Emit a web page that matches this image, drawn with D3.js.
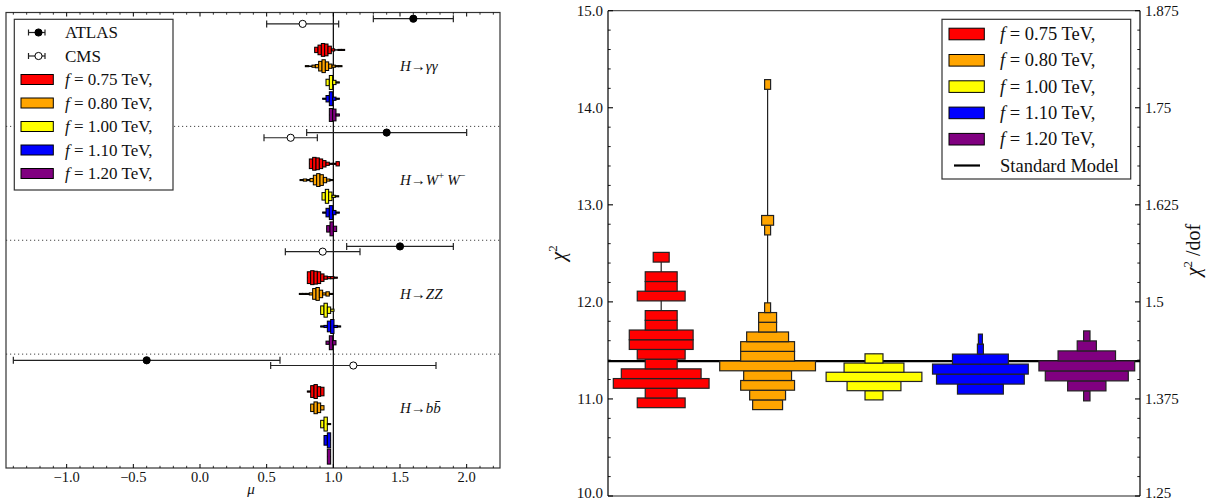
<!DOCTYPE html>
<html><head><meta charset="utf-8">
<script src="https://cdn.jsdelivr.net/npm/d3@7"></script>
<style>
body{margin:0;background:#fff}
svg{display:block}
text{font-family:"Liberation Serif","DejaVu Serif",serif;fill:#111}
</style>
</head><body><svg id="c" width="1212" height="501"></svg>
<script>
// ---------------- DATA ----------------
const fLabels = ["0.75", "0.80", "1.00", "1.10", "1.20"];
const fColors = ["#ff0000", "#ffa500", "#ffff00", "#0000ff", "#800080"];

// Left panel: signal strengths
const channels = ["gg", "WW", "ZZ", "bb"];
const atlasMu = [1.60, 1.40, 1.50, -0.40];
const atlasLo = [1.30, 0.80, 1.10, -1.40];
const atlasHi = [1.90, 2.00, 1.90, 0.60];
const cmsMu = [0.77, 0.68, 0.92, 1.15];
const cmsLo = [0.50, 0.48, 0.64, 0.53];
const cmsHi = [1.04, 0.88, 1.20, 1.77];
const muTicks = [-1.0, -0.5, 0.0, 0.5, 1.0, 1.5, 2.0];

// mu histograms per channel (rows) and f value (columns), bin width muBin
const muBin = 0.025;
const muHistStart = [
  [0.860, 0.790, 0.945, 0.920, 0.970],
  [0.820, 0.750, 0.915, 0.920, 0.950],
  [0.805, 0.745, 0.905, 0.905, 0.945],
  [0.805, 0.830, 0.905, 0.930, 0.955]
];
const muHistCounts = [
  [[5,9,12,11,7,2,0,1,1], [1,0,2,3,9,12,8,4,2,1,1], [6,13,4,1], [1,6,13,3,1], [12,11,2]],
  [[9,12,11,9,6,3,1,1,4], [1,2,1,3,9,12,10,5,2,1], [7,13,8,2,1], [1,8,13,4,1], [6,13,5]],
  [[11,13,12,11,7,3,2,2,1], [1,1,1,2,10,12,7,2,4,1], [8,13,6,2], [1,2,10,13,2,1], [3,13,4]],
  [[1,11,13,9,8], [7,11,9,4], [7,13,1], [9,14], [14]]
];

// Right panel: chi^2 histograms (bins from start, upward)
const chiStart = [10.91, 10.89, 10.99, 11.05, 10.98];
const chiBin = [0.100, 0.100, 0.095, 0.103, 0.103];
const chiCounts = [
  [3,2,6,5,2,3,4,4,2,2,0,3,2,2,0,1],
  [5,6,9,8,16,9,9,7,3,3,1,0,0,0,0,0,0,0,1,2,0,0,0,0,0,0,0,0,0,0,0,0,0,1],
  [3,9,16,10,3],
  [23,44,48,28,3,2],
  [1,6,13,15,9,3,1]
];
const chiSM = 11.39;
const dof = 8;
const chiTicks = [10, 11, 12, 13, 14, 15];
const dofTicks = [1.25, 1.375, 1.5, 1.625, 1.75, 1.875];
const dofTickLabels = ["1.25", "1.375", "1.5", "1.625", "1.75", "1.875"];

// ---------------- DRAW ----------------
const svg = d3.select("#c");
svg.append("rect").attr("width", 1212).attr("height", 501).attr("fill", "#fff");

// ===== LEFT PANEL =====
const L = {x0: 6, x1: 500, y0: 12.5, y1: 468};
const xMu = d3.scaleLinear().domain([-1.455, 2.25]).range([L.x0, L.x1]);
const rowsPer = 7;
const yRow = d3.scaleLinear().domain([0, rowsPer * channels.length]).range([L.y0, L.y1]);
const atlasRow = 0.38, cmsRow = 0.70, histRow0 = 2.3, labelRow = 3.3;
const hMu = d3.scaleLinear().domain([0, 14]).range([0, 15]);

const lp = svg.append("g");
for (let c = 1; c < channels.length; c++) {
  lp.append("line").attr("x1", L.x0).attr("x2", L.x1)
    .attr("y1", yRow(c * rowsPer)).attr("y2", yRow(c * rowsPer))
    .attr("stroke", "#444").attr("stroke-width", 1).attr("stroke-dasharray", "1.2,2.8");
}
lp.append("line").attr("x1", xMu(1)).attr("x2", xMu(1)).attr("y1", L.y0).attr("y2", L.y1)
  .attr("stroke", "#000").attr("stroke-width", 1.2);

channels.forEach((ch, c) => {
  fLabels.forEach((f, k) => {
    const yc = yRow(c * rowsPer + histRow0 + k);
    const st = muHistStart[c][k], cnt = muHistCounts[c][k];
    lp.append("line").attr("x1", xMu(st)).attr("x2", xMu(st + cnt.length * muBin))
      .attr("y1", yc).attr("y2", yc).attr("stroke", "#000").attr("stroke-width", 1.4);
    lp.selectAll(null).data(cnt.map((v, i) => ({v, i})).filter(d => d.v > 0)).enter().append("rect")
      .attr("x", d => xMu(st + d.i * muBin))
      .attr("width", d => xMu(st + (d.i + 1) * muBin) - xMu(st + d.i * muBin))
      .attr("y", d => yc - hMu(d.v) / 2).attr("height", d => hMu(d.v))
      .attr("fill", fColors[k]).attr("stroke", "#000").attr("stroke-width", 1);
  });
});

function errbar(g, x, lo, hi, y, filled) {
  g.append("line").attr("x1", xMu(lo)).attr("x2", xMu(hi)).attr("y1", y).attr("y2", y)
    .attr("stroke", "#222").attr("stroke-width", 1.2);
  [lo, hi].forEach(v => g.append("line").attr("x1", xMu(v)).attr("x2", xMu(v))
    .attr("y1", y - 3.5).attr("y2", y + 3.5).attr("stroke", "#222").attr("stroke-width", 1.2));
  g.append("circle").attr("cx", xMu(x)).attr("cy", y).attr("r", 3.6)
    .attr("fill", filled ? "#000" : "#fff").attr("stroke", "#000").attr("stroke-width", 1);
}
channels.forEach((ch, c) => {
  errbar(lp, atlasMu[c], atlasLo[c], atlasHi[c], yRow(c * rowsPer + atlasRow), true);
  errbar(lp, cmsMu[c], cmsLo[c], cmsHi[c], yRow(c * rowsPer + cmsRow), false);
});

const chanLabel = [
  [["H", "i"], ["\u2192", "n"], ["\u03B3\u03B3", "i"]],
  [["H", "i"], ["\u2192", "n"], ["W", "i"], ["+", "s"], ["\u2009W", "i"], ["\u2212", "s"]],
  [["H", "i"], ["\u2192", "n"], ["ZZ", "i"]],
  [["H", "i"], ["\u2192", "n"], ["b", "i"], ["b\u0304", "i"]]
];
chanLabel.forEach((segs, c) => {
  const t = lp.append("text").attr("x", xMu(1.5)).attr("y", yRow(c * rowsPer + labelRow) + 5)
    .attr("font-size", 15);
  let sup = false;
  segs.forEach(([s, m]) => {
    const ts = t.append("tspan").text(s);
    if (m === "i") ts.attr("font-style", "italic");
    if (m === "s") { ts.attr("font-size", 10.5).attr("dy", sup ? 0 : -6); sup = true; }
    else if (sup) { ts.attr("dy", 6); sup = false; }
  });
});

lp.append("rect").attr("x", L.x0).attr("y", L.y0).attr("width", L.x1 - L.x0).attr("height", L.y1 - L.y0)
  .attr("fill", "none").attr("stroke", "#333").attr("stroke-width", 1.2);
const minorMu = d3.range(-14, 23).map(v => v / 10).filter(v => muTicks.indexOf(v) < 0 && v >= -1.455 && v <= 2.25);
[[L.y1, -1], [L.y0, 1]].forEach(([yy, dir]) => {
  muTicks.forEach(v => lp.append("line").attr("x1", xMu(v)).attr("x2", xMu(v))
    .attr("y1", yy).attr("y2", yy + dir * 4).attr("stroke", "#000").attr("stroke-width", 1));
  minorMu.forEach(v => lp.append("line").attr("x1", xMu(v)).attr("x2", xMu(v))
    .attr("y1", yy).attr("y2", yy + dir * 2.2).attr("stroke", "#000").attr("stroke-width", 0.8));
});
muTicks.forEach(v => lp.append("text").attr("x", xMu(v)).attr("y", 481.5).attr("text-anchor", "middle")
  .attr("font-size", 14.5).text(d3.format(".1f")(v).replace("-", "\u2212")));
lp.append("text").attr("x", 251).attr("y", 494).attr("text-anchor", "middle").attr("font-size", 15)
  .attr("font-style", "italic").text("\u03BC");

// left legend
const lg = lp.append("g");
lg.append("rect").attr("x", 14.3).attr("y", 19.3).attr("width", 158.7).attr("height", 170.7)
  .attr("fill", "#fff").attr("stroke", "#333").attr("stroke-width", 1.2);
const lgY = d3.range(7).map(i => 32.5 + i * 23.5);
[["ATLAS", true], ["CMS", false]].forEach(([name, filled], i) => {
  const y = lgY[i];
  lg.append("line").attr("x1", 28.5).attr("x2", 45).attr("y1", y).attr("y2", y).attr("stroke", "#222").attr("stroke-width", 1.2);
  [28.5, 45].forEach(x => lg.append("line").attr("x1", x).attr("x2", x).attr("y1", y - 3).attr("y2", y + 3).attr("stroke", "#222").attr("stroke-width", 1.2));
  lg.append("circle").attr("cx", 38.5).attr("cy", y).attr("r", 3.6).attr("fill", filled ? "#000" : "#fff").attr("stroke", "#000");
  lg.append("text").attr("x", 65).attr("y", y + 5.5).attr("font-size", 17).text(name);
});
function fText(g, x, y, fs, f) {
  const t = g.append("text").attr("x", x).attr("y", y).attr("font-size", fs);
  t.append("tspan").attr("font-style", "italic").text("f");
  t.append("tspan").text("\u2005=\u2005" + f + " TeV,");
}
fLabels.forEach((f, k) => {
  const y = lgY[k + 2];
  lg.append("rect").attr("x", 21).attr("y", y - 5).attr("width", 32.3).attr("height", 10)
    .attr("fill", fColors[k]).attr("stroke", "#000").attr("stroke-width", 1);
  fText(lg, 65, y + 5.5, 17, f);
});

// ===== RIGHT PANEL =====
const R = {x0: 608, x1: 1140, y0: 10.7, y1: 496};
const yChi = d3.scaleLinear().domain([10, 15]).range([R.y1, R.y0]);
const yDof = d3.scaleLinear().domain([10 / dof, 15 / dof]).range([R.y1, R.y0]);
const xBand = d3.scaleBand().domain(fLabels).range([R.x0, R.x1]);
const rp = svg.append("g");

rp.append("line").attr("x1", R.x0).attr("x2", R.x1).attr("y1", yChi(chiSM)).attr("y2", yChi(chiSM))
  .attr("stroke", "#000").attr("stroke-width", 2.2);

fLabels.forEach((f, k) => {
  const cx = xBand(f) + xBand.bandwidth() / 2;
  const cnt = chiCounts[k], st = chiStart[k], bw = chiBin[k];
  const wS = d3.scaleLinear().domain([0, d3.max(cnt)]).range([0, xBand.bandwidth() * 0.9]);
  rp.append("line").attr("x1", cx).attr("x2", cx).attr("y1", yChi(st)).attr("y2", yChi(st + cnt.length * bw))
    .attr("stroke", "#222").attr("stroke-width", 1.2);
  rp.selectAll(null).data(cnt.map((v, i) => ({v, i})).filter(d => d.v > 0)).enter().append("rect")
    .attr("x", d => cx - wS(d.v) / 2).attr("width", d => wS(d.v))
    .attr("y", d => yChi(st + (d.i + 1) * bw)).attr("height", d => yChi(st + d.i * bw) - yChi(st + (d.i + 1) * bw))
    .attr("fill", fColors[k]).attr("stroke", "#222").attr("stroke-width", 1.2);
});

rp.append("line").attr("x1", R.x0).attr("x2", R.x1).attr("y1", R.y0).attr("y2", R.y0).attr("stroke", "#555").attr("stroke-width", 1.2);
rp.append("line").attr("x1", R.x0).attr("x2", R.x1).attr("y1", R.y1).attr("y2", R.y1).attr("stroke", "#222").attr("stroke-width", 1.2);
rp.append("line").attr("x1", R.x0).attr("x2", R.x0).attr("y1", R.y0).attr("y2", R.y1).attr("stroke", "#000").attr("stroke-width", 1.2);
rp.append("line").attr("x1", R.x1).attr("x2", R.x1).attr("y1", R.y0).attr("y2", R.y1).attr("stroke", "#000").attr("stroke-width", 1.2);
d3.range(10, 15.001, 0.2).forEach(v => {
  const major = Math.abs(v - Math.round(v)) < 1e-6;
  rp.append("line").attr("x1", R.x0).attr("x2", R.x0 + (major ? 5 : 2.7)).attr("y1", yChi(v)).attr("y2", yChi(v))
    .attr("stroke", "#000").attr("stroke-width", major ? 1.1 : 0.9);
});
const labY = y => Math.min(y + 5, 497.5);
chiTicks.forEach(v => rp.append("text").attr("x", 603).attr("y", labY(yChi(v))).attr("text-anchor", "end")
  .attr("font-size", 15).text(d3.format(".1f")(v)));
d3.range(0, 26).map(i => 1.25 + i * 0.025).forEach((v, i) => {
  const major = i % 5 === 0;
  rp.append("line").attr("x1", R.x1).attr("x2", R.x1 - (major ? 5 : 2.7)).attr("y1", yDof(v)).attr("y2", yDof(v))
    .attr("stroke", "#000").attr("stroke-width", major ? 1.1 : 0.9);
});
dofTicks.forEach((v, i) => rp.append("text").attr("x", 1145).attr("y", labY(yDof(v)))
  .attr("font-size", 15).text(dofTickLabels[i]));

const yl = rp.append("text").attr("transform", "translate(565,253) rotate(-90)").attr("text-anchor", "middle")
  .attr("font-size", 20);
yl.append("tspan").attr("font-style", "italic").text("\u03C7");
yl.append("tspan").attr("font-size", 13).attr("dy", -8).text("2");
const yr = rp.append("text").attr("transform", "translate(1200,250) rotate(-90)").attr("text-anchor", "middle")
  .attr("font-size", 20);
yr.append("tspan").attr("font-style", "italic").text("\u03C7");
yr.append("tspan").attr("font-size", 13).attr("dy", -8).text("2");
yr.append("tspan").attr("dy", 8).text("\u2005/dof");

// right legend
const rg = rp.append("g");
rg.append("rect").attr("x", 942).attr("y", 19.3).attr("width", 188.7).attr("height", 159.7)
  .attr("fill", "#fff").attr("stroke", "#333").attr("stroke-width", 1.2);
const rgY = d3.range(6).map(i => 34 + i * 26.3);
fLabels.forEach((f, k) => {
  const y = rgY[k];
  rg.append("rect").attr("x", 949).attr("y", y - 5.8).attr("width", 35.3).attr("height", 11.6)
    .attr("fill", fColors[k]).attr("stroke", "#000").attr("stroke-width", 1);
  fText(rg, 1000, y + 6, 18.5, f);
});
rg.append("line").attr("x1", 954).attr("x2", 980).attr("y1", rgY[5]).attr("y2", rgY[5]).attr("stroke", "#000").attr("stroke-width", 2.2);
rg.append("text").attr("x", 1000).attr("y", rgY[5] + 6).attr("font-size", 18.5).text("Standard Model");
</script></body></html>
